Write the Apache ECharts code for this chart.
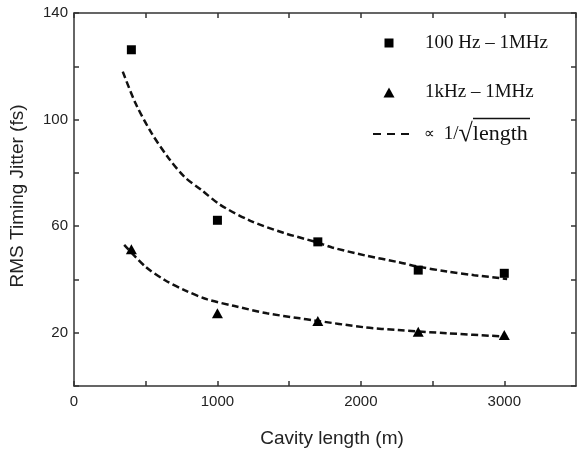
<!DOCTYPE html>
<html>
<head>
<meta charset="utf-8">
<script src="https://cdn.jsdelivr.net/npm/echarts@6/dist/echarts.min.js"></script>
<style>
html,body{margin:0;padding:0;background:#fff;}
#chart{width:577px;height:454px;}
</style>
</head>
<body>
<div id="chart"></div>
<script>
// ---- data ----
var seriesNames = ['100 Hz – 1MHz', '1kHz – 1MHz', '∝ 1/√length'];
var lengths = [400, 1000, 1700, 2400, 3000];
var jitterWide = [126.2, 62.2, 54.1, 43.5, 42.3];      // 100 Hz – 1MHz (squares)
var jitterNarrow = [51.3, 27.3, 24.4, 20.4, 19.1];     // 1kHz – 1MHz (triangles)
var fitWideX = [340, 430, 540, 660, 770, 890, 1020, 1230, 1460, 1690, 1800, 2030, 2260, 2400, 2600, 2790, 3020];
var fitWideY = [118, 106, 95, 85.5, 78.5, 73.5, 68, 62, 57.5, 54, 52, 49, 46.5, 44.8, 43, 41.6, 40.2];
var fitNarrowX = [350, 500, 635, 770, 930, 1120, 1345, 1575, 1665, 2030, 2260, 2600, 3020];
var fitNarrowY = [53, 44.7, 39.7, 36, 32.5, 30, 27.3, 25.4, 24.7, 22, 21, 19.8, 18.5];
var xTickLabels = [0, 1000, 2000, 3000];
var yTickLabels = [20, 60, 100, 140];

function pairs(xs, ys) { return xs.map(function (x, i) { return [x, ys[i]]; }); }

var axisColor = '#333';
var sans = 'Liberation Sans, Arial, sans-serif';
var serif = 'Liberation Serif, Times New Roman, serif';
var labelFont = { fontFamily: sans, fontSize: 15, color: '#222' };
var legendFont = { fontFamily: serif, fontSize: 19, color: '#111' };

var chart = echarts.init(document.getElementById('chart'), null, { renderer: 'canvas' });
var dash = [7, 3.5];

function legendItem(name, top, left, itemWidth, itemHeight, padLeft, extra) {
  var o = {
    data: [name], top: top, left: left, orient: 'vertical', padding: 0,
    itemWidth: itemWidth, itemHeight: itemHeight, selectedMode: false,
    textStyle: Object.assign({}, legendFont, { padding: [0, 0, 0, padLeft] }),
    lineStyle: { type: [8, 6], width: 2 }
  };
  return Object.assign(o, extra || {});
}

chart.setOption({
  animation: false,
  backgroundColor: '#fff',
  grid: { left: 71, right: 1, top: 13, bottom: 68 },
  legend: [
    legendItem(seriesNames[0], 33.5, 384.5, 9, 9, 26.5),
    legendItem(seriesNames[1], 83, 383.5, 11, 10, 25.5),
    legendItem(seriesNames[2], 121, 372, 36, 10, 10, {
      itemStyle: { opacity: 0 },
      formatter: function () { return '{p|∝}{a| 1/}{s|√}{b|length}'; },
      textStyle: {
        padding: [0, 0, 0, 10],
        rich: {
          p: { fontFamily: serif, fontSize: 15, color: '#111', padding: [0, 4, 0, 0] },
          a: { fontFamily: serif, fontSize: 19, color: '#111' },
          s: { fontFamily: serif, fontSize: 26, color: '#111' },
          b: { fontFamily: serif, fontSize: 22, color: '#111' }
        }
      }
    })
  ],
  graphic: [{
    type: 'line', shape: { x1: 473, y1: 118.5, x2: 530, y2: 118.5 },
    style: { stroke: '#111', lineWidth: 1.3 }, silent: true
  }],
  xAxis: [{
    type: 'value', min: 0, max: 3500, interval: 500, position: 'bottom',
    name: 'Cavity length (m)', nameLocation: 'middle', nameGap: 43,
    nameTextStyle: { fontFamily: sans, fontSize: 19, color: '#222', padding: [0, 0, 0, 14] },
    axisLine: { onZero: false, lineStyle: { color: axisColor, width: 1.5 } },
    axisTick: { inside: true, length: 5, lineStyle: { color: axisColor, width: 1.5 } },
    axisLabel: Object.assign({ margin: 8, showMaxLabel: false,
      formatter: function (v) { return xTickLabels.indexOf(v) >= 0 ? String(v) : ''; } }, labelFont),
    splitLine: { show: false }
  }, {
    type: 'value', min: 0, max: 3500, interval: 500, position: 'top',
    axisLine: { onZero: false, lineStyle: { color: axisColor, width: 1.5 } },
    axisTick: { inside: true, length: 5, lineStyle: { color: axisColor, width: 1.5 } },
    axisLabel: { show: false }, splitLine: { show: false }
  }],
  yAxis: [{
    type: 'value', min: 0, max: 140, interval: 20, position: 'left',
    name: 'RMS Timing Jitter (fs)', nameLocation: 'middle', nameGap: 47,
    nameTextStyle: { fontFamily: sans, fontSize: 19, color: '#222', padding: [0, 0, 0, 7] },
    axisLine: { onZero: false, lineStyle: { color: axisColor, width: 1.5 } },
    axisTick: { inside: true, length: 5, lineStyle: { color: axisColor, width: 1.5 } },
    axisLabel: Object.assign({ margin: 6,
      formatter: function (v) { return yTickLabels.indexOf(v) >= 0 ? String(v) : ''; } }, labelFont),
    splitLine: { show: false }
  }, {
    type: 'value', min: 0, max: 140, interval: 20, position: 'right',
    axisLine: { onZero: false, lineStyle: { color: axisColor, width: 1.5 } },
    axisTick: { inside: true, length: 5, lineStyle: { color: axisColor, width: 1.5 } },
    axisLabel: { show: false }, splitLine: { show: false }
  }],
  series: [
    {
      name: seriesNames[0], type: 'scatter', symbol: 'rect', symbolSize: 9,
      itemStyle: { color: '#000', opacity: 1 }, data: pairs(lengths, jitterWide), z: 5
    },
    {
      name: seriesNames[1], type: 'scatter', symbol: 'triangle', symbolSize: [11, 10],
      itemStyle: { color: '#000', opacity: 1 }, data: pairs(lengths, jitterNarrow), z: 5
    },
    {
      name: seriesNames[2], type: 'line', smooth: 0.3, symbol: 'none',
      lineStyle: { color: '#111', width: 2.5, type: dash },
      itemStyle: { color: '#111' }, data: pairs(fitWideX, fitWideY)
    },
    {
      name: seriesNames[2], type: 'line', smooth: 0.3, symbol: 'none',
      lineStyle: { color: '#111', width: 2.5, type: dash },
      itemStyle: { color: '#111' }, data: pairs(fitNarrowX, fitNarrowY)
    }
  ]
});
</script>
</body>
</html>
